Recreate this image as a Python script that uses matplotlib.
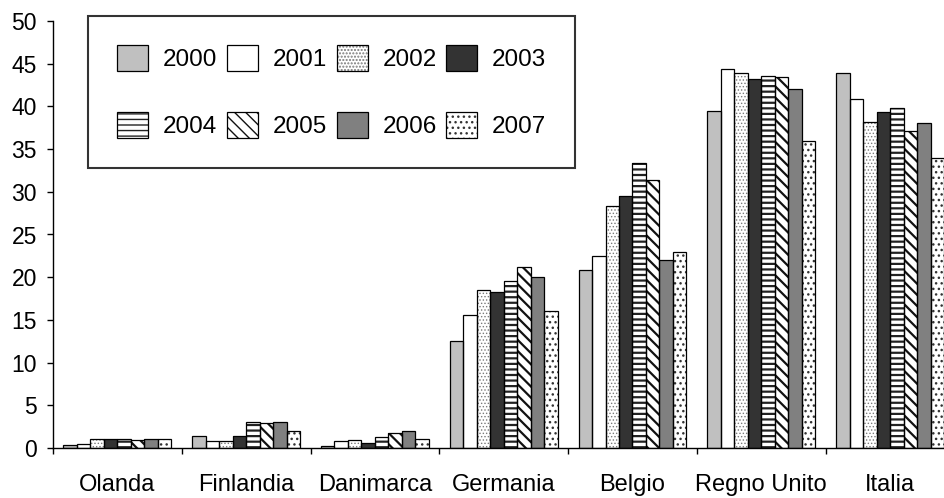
import matplotlib
matplotlib.use('Agg')
import matplotlib.pyplot as plt
from matplotlib.legend_handler import HandlerTuple
import numpy as np

plt.rcParams['font.family'] = ['Liberation Sans', 'DejaVu Sans']

paesi = ['Olanda', 'Finlandia', 'Danimarca', 'Germania', 'Belgio', 'Regno Unito', 'Italia']
anni = ['2000', '2001', '2002', '2003', '2004', '2005', '2006', '2007']

v2000 = [0.4, 1.4, 0.2, 12.5, 20.9, 39.5, 43.9]
v2001 = [0.5, 0.85, 0.85, 15.6, 22.5, 44.4, 40.9]
v2002 = [1.0, 0.8, 0.9, 18.5, 28.3, 43.9, 38.2]
v2003 = [1.0, 1.4, 0.6, 18.3, 29.5, 43.2, 39.3]
v2004 = [1.1, 3.1, 1.3, 19.5, 33.4, 43.6, 39.8]
v2005 = [0.9, 2.95, 1.8, 21.2, 31.4, 43.5, 37.1]
v2006 = [1.0, 3.0, 2.0, 20.0, 22.0, 42.0, 38.0]
v2007 = [1.0, 2.0, 1.0, 16.0, 23.0, 35.9, 33.9]
serie = [v2000, v2001, v2002, v2003, v2004, v2005, v2006, v2007]

# fill colour, hatch, hatch colour, hatch linewidth
stili = [
    ('#c0c0c0', None, 'black', 1.0),
    ('white', None, 'black', 1.0),
    ('white', '.....', '#7a7a7a', 0.6),
    ('#333333', None, 'black', 1.0),
    ('white', '---', '#222222', 1.6),
    ('white', '\\\\\\', '#111111', 1.6),
    ('#808080', None, 'black', 1.0),
    ('white', '...', '#333333', 1.0),
]

fig = plt.figure(figsize=(9.44, 4.98), dpi=100)
ax = fig.add_axes([52.9 / 944, 50 / 498, (954.5 - 52.9) / 944, 427 / 498])

x = np.arange(len(paesi))
occ = 0.838
w = occ / len(anni)
handles = []
for i, (vals, st) in enumerate(zip(serie, stili)):
    fc, hatch, hc, hlw = st
    pos = x - occ / 2 + (i + 0.5) * w
    b1 = ax.bar(pos, vals, w, color=fc, edgecolor=hc if hatch else 'none',
                linewidth=0, hatch=hatch, zorder=2)
    if hatch:
        for p in b1:
            if hasattr(p, 'set_hatch_linewidth'):
                p.set_hatch_linewidth(hlw)
    b2 = ax.bar(pos, vals, w, fill=False, edgecolor='black', linewidth=0.9, zorder=3)
    handles.append((b1[0], b2[0]))

ax.set_xlim(-0.5, len(paesi) - 0.5)
ax.set_ylim(0, 50)
ax.set_yticks(np.arange(0, 51, 5))
ax.tick_params(axis='y', labelsize=16.5, length=4, width=1, pad=7.5, direction='out')

ax.set_xticks(np.arange(len(paesi) + 1) - 0.5)
ax.set_xticklabels([])
ax.tick_params(axis='x', which='major', length=4, width=1, direction='out')
ax.set_xticks(x, minor=True)
ax.set_xticklabels(paesi, minor=True)
ax.tick_params(axis='x', which='minor', length=0, labelsize=17, pad=19)

for s in ['top', 'right']:
    ax.spines[s].set_visible(False)
for s in ['left', 'bottom']:
    ax.spines[s].set_linewidth(1)
    ax.spines[s].set_color('black')

# legenda a 4 colonne, riempita per colonne
ordine = [0, 4, 1, 5, 2, 6, 3, 7]
leg = ax.legend([handles[k] for k in ordine], [anni[k] for k in ordine],
                handler_map={tuple: HandlerTuple(ndivide=1, pad=0)},
                ncol=4, loc='upper left', bbox_to_anchor=(0.039, 1.012),
                borderaxespad=0, fontsize=17.5, frameon=True, fancybox=False,
                handlelength=1.28, handleheight=1.25, handletextpad=0.6,
                columnspacing=0.4, labelspacing=1.7, borderpad=1.2)
leg.get_frame().set_edgecolor('black')
leg.get_frame().set_linewidth(1.5)
leg.set_zorder(5)

fig.savefig('out.png', dpi=100)
